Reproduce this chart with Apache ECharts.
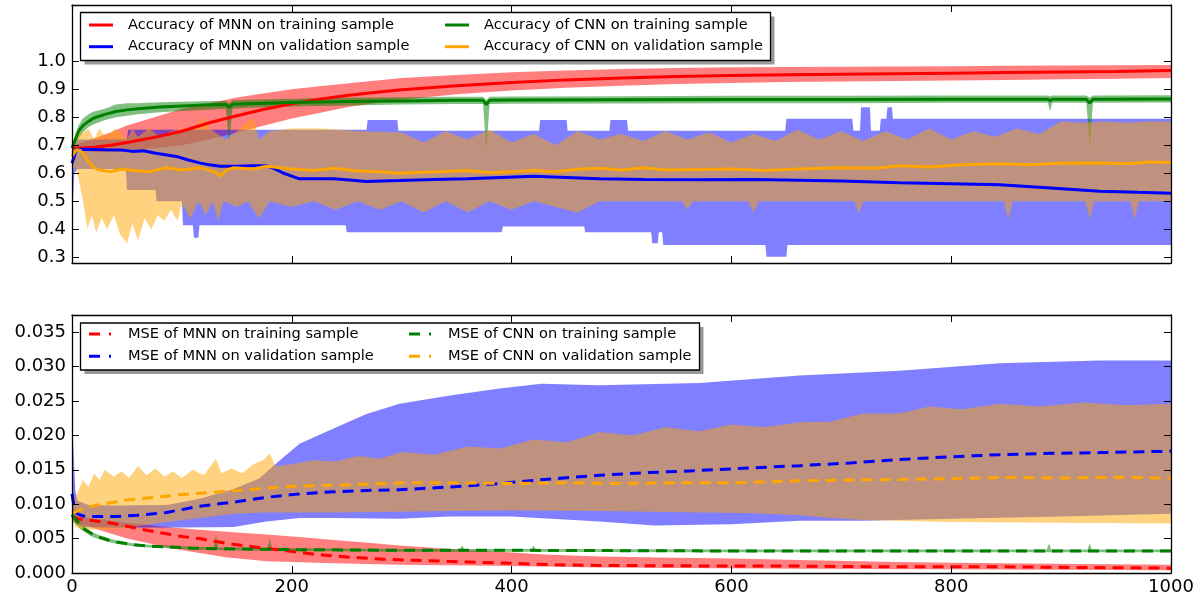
<!DOCTYPE html>
<html><head><meta charset="utf-8">
<script src="https://cdn.jsdelivr.net/npm/echarts@6/dist/echarts.min.js"></script>
<style>html,body{margin:0;padding:0;background:#fff}#c{width:1202px;height:600px}</style>
</head><body><div id="c"></div>
<script>
// ---------- Tick labels ----------
const xTicks = [0, 200, 400, 600, 800, 1000];
const accTicks = [0.3, 0.4, 0.5, 0.6, 0.7, 0.8, 0.9, 1.0];
const mseTicks = [0, 0.005, 0.01, 0.015, 0.02, 0.025, 0.03, 0.035];

// ---------- Legend names ----------
const accNames = ['Accuracy of MNN on training sample', 'Accuracy of MNN on validation sample',
                  'Accuracy of CNN on training sample', 'Accuracy of CNN on validation sample'];
const mseNames = ['MSE of MNN on training sample', 'MSE of MNN on validation sample',
                  'MSE of CNN on training sample', 'MSE of CNN on validation sample'];

// ---------- Accuracy: MNN training (red) ----------
const accMnnTrainMean = [[0,0.69],[10,0.69],[20,0.693],[35,0.70],[50,0.71],[75,0.728],[100,0.75],[125,0.78],[150,0.805],[175,0.828],[200,0.848],[225,0.864],[250,0.877],[275,0.888],[300,0.898],[350,0.912],[400,0.924],[450,0.933],[500,0.94],[550,0.945],[600,0.949],[650,0.951],[700,0.953],[750,0.955],[800,0.957],[850,0.959],[900,0.961],[950,0.963],[1000,0.966]];
const accMnnTrainUpper = [[0,0.70],[10,0.71],[20,0.725],[35,0.745],[50,0.77],[75,0.80],[100,0.83],[125,0.85],[150,0.87],[175,0.885],[200,0.90],[225,0.91],[250,0.92],[275,0.93],[300,0.94],[350,0.95],[400,0.96],[450,0.966],[500,0.972],[550,0.975],[600,0.978],[650,0.979],[700,0.98],[750,0.981],[800,0.982],[850,0.983],[900,0.984],[950,0.985],[1000,0.986]];
const accMnnTrainLower = [[0,0.685],[10,0.68],[20,0.675],[35,0.675],[50,0.68],[75,0.69],[100,0.70],[125,0.72],[150,0.745],[175,0.77],[200,0.795],[225,0.815],[250,0.835],[275,0.85],[300,0.862],[350,0.882],[400,0.895],[450,0.905],[500,0.912],[550,0.918],[600,0.922],[650,0.925],[700,0.927],[750,0.929],[800,0.931],[850,0.933],[900,0.935],[950,0.937],[1000,0.94]];

// ---------- Accuracy: MNN validation (blue) ----------
const accMnnValMean = [[0,0.636],[2,0.66],[4,0.685],[10,0.686],[20,0.685],[30,0.684],[45,0.683],[55,0.678],[65,0.68],[75,0.672],[85,0.666],[95,0.66],[105,0.648],[116,0.637],[125,0.63],[135,0.625],[150,0.625],[165,0.627],[177,0.627],[185,0.615],[192,0.601],[200,0.59],[207,0.58],[220,0.58],[238,0.58],[255,0.575],[268,0.571],[298,0.574],[330,0.578],[360,0.58],[390,0.585],[420,0.589],[450,0.585],[480,0.58],[520,0.578],[571,0.577],[620,0.578],[662,0.575],[700,0.572],[753,0.566],[800,0.563],[844,0.559],[880,0.55],[935,0.536],[970,0.532],[1000,0.529]];
const accMnnValUpper = [[0,0.70],[3,0.72],[50,0.72],[51,0.755],[268,0.755],[269,0.79],[296,0.79],[297,0.752],[425,0.752],[426,0.79],[450,0.79],[451,0.752],[489,0.752],[490,0.79],[505,0.79],[506,0.752],[649,0.752],[650,0.794],[710,0.794],[711,0.752],[717,0.752],[718,0.835],[726,0.835],[727,0.752],[735,0.752],[736,0.794],[741,0.794],[742,0.835],[746,0.835],[747,0.794],[1000,0.794]];
const accMnnValLower = [[0,0.42],[2,0.6],[5,0.615],[49,0.615],[50,0.54],[76,0.54],[77,0.5],[100,0.5],[101,0.415],[110,0.415],[111,0.37],[115,0.37],[116,0.415],[249,0.415],[250,0.39],[391,0.39],[392,0.41],[466,0.41],[467,0.39],[527,0.39],[528,0.35],[533,0.35],[534,0.39],[537,0.39],[538,0.344],[631,0.344],[632,0.302],[650,0.302],[651,0.344],[1000,0.344]];

// ---------- Accuracy: CNN training (green) ----------
const accCnnTrainMean = [[0,0.69],[3,0.72],[6,0.75],[10,0.77],[15,0.785],[20,0.797],[30,0.81],[40,0.82],[50,0.826],[60,0.83],[80,0.836],[100,0.84],[120,0.843],[140,0.845],[143,0.835],[146,0.846],[160,0.848],[200,0.852],[250,0.856],[300,0.858],[350,0.86],[374,0.86],[377,0.845],[380,0.86],[400,0.861],[500,0.862],[600,0.863],[700,0.863],[800,0.864],[888,0.864],[890,0.858],[892,0.864],[923,0.864],[926,0.85],[929,0.864],[1000,0.865]];
const accCnnTrainUpper = [[0,0.70],[3,0.74],[6,0.77],[10,0.795],[15,0.81],[20,0.82],[30,0.83],[40,0.845],[50,0.85],[60,0.85],[80,0.853],[100,0.855],[120,0.857],[140,0.858],[143,0.85],[146,0.86],[160,0.862],[200,0.866],[250,0.869],[300,0.871],[350,0.873],[374,0.873],[377,0.86],[380,0.873],[400,0.874],[500,0.875],[600,0.876],[700,0.876],[800,0.877],[888,0.877],[890,0.875],[892,0.877],[923,0.877],[926,0.87],[929,0.877],[1000,0.878]];
const accCnnTrainLower = [[0,0.68],[3,0.70],[6,0.725],[10,0.745],[15,0.765],[20,0.775],[30,0.79],[40,0.80],[50,0.805],[60,0.81],[80,0.818],[100,0.822],[120,0.826],[140,0.83],[143,0.71],[146,0.83],[160,0.834],[200,0.838],[250,0.842],[300,0.845],[350,0.847],[374,0.847],[377,0.684],[380,0.847],[400,0.848],[500,0.849],[600,0.85],[700,0.85],[800,0.851],[888,0.851],[890,0.82],[892,0.851],[923,0.851],[926,0.696],[929,0.851],[1000,0.852]];

// ---------- Accuracy: CNN validation (orange) ----------
const accCnnValMean = [[0,0.66],[4,0.684],[8,0.68],[12,0.66],[16,0.637],[20,0.62],[25,0.612],[35,0.605],[45,0.615],[56,0.61],[70,0.605],[86,0.62],[100,0.612],[116,0.62],[130,0.605],[135,0.59],[140,0.61],[147,0.62],[165,0.615],[177,0.625],[200,0.615],[220,0.61],[238,0.618],[260,0.608],[280,0.605],[298,0.6],[320,0.604],[340,0.606],[360,0.61],[380,0.602],[400,0.605],[420,0.61],[440,0.605],[460,0.614],[480,0.618],[500,0.612],[520,0.62],[540,0.612],[571,0.613],[600,0.615],[630,0.61],[662,0.615],[700,0.62],[730,0.618],[753,0.627],[780,0.622],[810,0.63],[844,0.634],[870,0.63],[900,0.636],[935,0.637],[960,0.634],[980,0.64],[1000,0.638]];
const accCnnValUpper = [[0,0.70],[3,0.72],[5,0.76],[10,0.74],[15,0.76],[20,0.72],[25,0.76],[30,0.73],[40,0.76],[50,0.72],[55,0.76],[60,0.73],[70,0.76],[80,0.73],[90,0.75],[100,0.76],[110,0.76],[120,0.8],[125,0.76],[140,0.72],[150,0.75],[165,0.8],[170,0.72],[180,0.75],[200,0.76],[230,0.76],[260,0.75],[300,0.745],[320,0.71],[340,0.75],[360,0.72],[380,0.755],[400,0.71],[420,0.74],[440,0.70],[460,0.75],[480,0.72],[500,0.74],[520,0.715],[540,0.75],[560,0.72],[580,0.745],[600,0.71],[620,0.74],[640,0.715],[660,0.755],[680,0.72],[700,0.75],[720,0.715],[740,0.75],[760,0.72],[780,0.76],[800,0.72],[820,0.75],[840,0.73],[860,0.76],[880,0.74],[900,0.785],[920,0.78],[940,0.785],[960,0.78],[980,0.785],[1000,0.785]];
const accCnnValLower = [[0,0.62],[3,0.62],[6,0.58],[10,0.5],[14,0.40],[18,0.45],[22,0.39],[27,0.44],[32,0.40],[38,0.45],[44,0.38],[50,0.35],[55,0.42],[60,0.36],[66,0.44],[72,0.40],[78,0.45],[84,0.43],[90,0.47],[96,0.43],[100,0.49],[108,0.44],[115,0.5],[122,0.45],[128,0.5],[133,0.43],[138,0.5],[150,0.48],[160,0.5],[170,0.44],[180,0.5],[200,0.48],[220,0.5],[240,0.47],[260,0.5],[280,0.47],[300,0.5],[320,0.46],[340,0.5],[360,0.46],[380,0.5],[400,0.47],[420,0.5],[440,0.48],[460,0.46],[480,0.5],[555,0.5],[560,0.47],[565,0.5],[615,0.5],[620,0.46],[625,0.5],[712,0.5],[716,0.457],[720,0.5],[848,0.5],[852,0.435],[856,0.5],[922,0.5],[926,0.435],[930,0.5],[963,0.5],[967,0.435],[971,0.5],[1000,0.5]];

// ---------- MSE: MNN training (red) ----------
const mseMnnTrainMean = [[0,0.0082],[5,0.0079],[13,0.0077],[25,0.0075],[38,0.0072],[50,0.0068],[62,0.0064],[75,0.006],[86,0.0057],[100,0.0053],[116,0.005],[130,0.0046],[141,0.0043],[165,0.0038],[192,0.0033],[222,0.0027],[253,0.0023],[283,0.002],[320,0.0018],[360,0.0016],[400,0.0014],[440,0.0012],[480,0.0011],[550,0.00105],[600,0.001],[662,0.001],[750,0.0009],[844,0.0009],[920,0.0008],[1000,0.0007]];
const mseMnnTrainUpper = [[0,0.0135],[2,0.0095],[5,0.0085],[15,0.008],[30,0.0077],[56,0.0072],[86,0.0067],[116,0.0063],[150,0.0059],[177,0.0056],[210,0.0052],[238,0.0048],[270,0.0044],[298,0.004],[344,0.0035],[389,0.0031],[430,0.0027],[480,0.0024],[550,0.0022],[600,0.0021],[662,0.0019],[750,0.0016],[844,0.0014],[920,0.0013],[1000,0.0012]];
const mseMnnTrainLower = [[0,0.0075],[5,0.0072],[15,0.0068],[30,0.006],[50,0.005],[71,0.0043],[90,0.0036],[116,0.0029],[140,0.0023],[177,0.0017],[238,0.0014],[298,0.0012],[400,0.001],[480,0.0008],[662,0.0006],[844,0.0005],[1000,0.0004]];

// ---------- MSE: MNN validation (blue) ----------
const mseMnnValMean = [[0,0.0115],[2,0.0095],[5,0.0086],[10,0.0083],[20,0.0082],[40,0.0082],[60,0.0084],[86,0.0088],[116,0.0097],[147,0.0103],[177,0.011],[207,0.0115],[238,0.0118],[268,0.012],[298,0.0121],[344,0.0125],[389,0.013],[430,0.0136],[480,0.0142],[525,0.0146],[571,0.0149],[620,0.0153],[662,0.0156],[708,0.016],[753,0.0165],[800,0.0169],[844,0.0172],[890,0.0174],[935,0.0175],[1000,0.0177]];
const mseMnnValUpper = [[0,0.02],[1,0.019],[3,0.012],[5,0.0105],[15,0.0099],[40,0.0098],[86,0.0099],[116,0.0108],[147,0.0122],[170,0.0137],[185,0.0158],[207,0.0188],[238,0.021],[268,0.0231],[298,0.0246],[344,0.0258],[389,0.0268],[427,0.0275],[480,0.0273],[571,0.0276],[662,0.0287],[753,0.0294],[844,0.0305],[935,0.0309],[1000,0.0309]];
const mseMnnValLower = [[0,0.0085],[3,0.0072],[10,0.0067],[30,0.0066],[60,0.0066],[100,0.0066],[147,0.0067],[177,0.0075],[207,0.008],[238,0.008],[298,0.0079],[344,0.0082],[400,0.0082],[480,0.0075],[530,0.0069],[600,0.0071],[662,0.0076],[720,0.0076],[800,0.0079],[900,0.0082],[1000,0.0086]];

// ---------- MSE: CNN training (green) ----------
const mseCnnTrainMean = [[0,0.0085],[2,0.008],[4,0.0077],[8,0.0068],[13,0.0062],[19,0.0056],[25,0.0052],[33,0.0048],[41,0.0045],[56,0.0041],[70,0.0039],[86,0.0038],[110,0.0036],[147,0.0035],[200,0.0034],[300,0.0033],[400,0.0033],[600,0.0032],[800,0.0032],[1000,0.0032]];
const mseCnnTrainUpper = [[0,0.0095],[2,0.0088],[4,0.0082],[8,0.0072],[13,0.0065],[19,0.0059],[25,0.0055],[33,0.0051],[41,0.0047],[56,0.0043],[70,0.0041],[86,0.004],[110,0.0038],[129,0.0037],[131,0.0055],[133,0.0037],[147,0.0037],[178,0.0036],[180,0.005],[182,0.0036],[200,0.0036],[300,0.0035],[353,0.0035],[355,0.004],[357,0.0035],[418,0.0035],[420,0.004],[422,0.0035],[600,0.0034],[800,0.0034],[887,0.0034],[889,0.0043],[891,0.0034],[924,0.0034],[926,0.0043],[928,0.0034],[1000,0.0034]];
const mseCnnTrainLower = [[0,0.0076],[2,0.0073],[4,0.007],[8,0.0063],[13,0.0058],[19,0.0052],[25,0.0049],[33,0.0045],[41,0.0042],[56,0.0039],[70,0.0037],[86,0.0036],[110,0.0034],[147,0.0033],[200,0.0032],[300,0.0031],[400,0.0031],[600,0.003],[800,0.003],[1000,0.003]];

// ---------- MSE: CNN validation (orange) ----------
const mseCnnValMean = [[0,0.0087],[5,0.009],[10,0.0093],[20,0.0098],[35,0.0102],[50,0.0106],[75,0.011],[100,0.0114],[125,0.0117],[150,0.012],[175,0.0123],[200,0.0126],[250,0.0128],[300,0.0131],[350,0.0131],[400,0.013],[450,0.0131],[500,0.013],[550,0.0131],[600,0.0131],[662,0.0134],[700,0.0135],[750,0.0136],[800,0.0137],[844,0.0139],[900,0.0138],[950,0.0139],[1000,0.0138]];
const mseCnnValUpper = [[0,0.0095],[3,0.011],[6,0.012],[10,0.0135],[15,0.0125],[20,0.0145],[25,0.0135],[30,0.015],[38,0.014],[45,0.0148],[52,0.0138],[60,0.0155],[68,0.0142],[76,0.0152],[84,0.014],[92,0.0148],[100,0.0138],[110,0.015],[120,0.0142],[131,0.0166],[136,0.0145],[145,0.0152],[155,0.0145],[165,0.0158],[175,0.0165],[180,0.0174],[185,0.0155],[200,0.0158],[220,0.0164],[240,0.0162],[260,0.017],[280,0.0166],[300,0.0176],[330,0.0172],[360,0.0184],[390,0.0181],[420,0.0194],[450,0.019],[480,0.0205],[510,0.02],[540,0.0212],[571,0.0206],[600,0.0216],[630,0.0212],[662,0.0219],[690,0.022],[720,0.0232],[753,0.0232],[780,0.0242],[810,0.0238],[844,0.0246],[880,0.0242],[920,0.0248],[960,0.0244],[1000,0.0246]];
const mseCnnValLower = [[0,0.008],[3,0.0068],[8,0.0064],[20,0.0063],[40,0.0064],[60,0.0068],[86,0.0074],[116,0.008],[147,0.0086],[177,0.0088],[238,0.0088],[298,0.0089],[344,0.009],[400,0.0091],[480,0.009],[571,0.0088],[620,0.0087],[662,0.0084],[690,0.008],[720,0.0077],[800,0.0074],[900,0.0073],[1000,0.0072]];

// ---------- Styles ----------
const RED = '#ff0000', BLUE = '#0000ff', GREEN = '#008000', ORANGE = '#ffa500';
const FONT = 'DejaVu Sans';

function band(upper, lower, color, gi) {
  return {
    type: 'custom', xAxisIndex: gi * 2, yAxisIndex: gi * 2, silent: true, z: 1,
    clip: true, data: [upper[0]],
    renderItem: function (params, api) {
      const pts = [];
      for (let i = 0; i < upper.length; i++) pts.push(api.coord(upper[i]));
      for (let i = lower.length - 1; i >= 0; i--) pts.push(api.coord(lower[i]));
      return { type: 'polygon', shape: { points: pts }, style: { fill: color, stroke: null } };
    }
  };
}
function line(name, pts, color, gi, dashed) {
  return {
    name: name, type: 'line', xAxisIndex: gi * 2, yAxisIndex: gi * 2, data: pts,
    showSymbol: false, symbol: 'none', color: color, silent: true, z: 3,
    lineStyle: { color: color, width: 3, type: dashed ? [11, 7] : 'solid', cap: 'butt' }
  };
}

function xAx(gi, pos, labels) {
  return {
    type: 'value', gridIndex: gi, position: pos, min: 0, max: 1000, interval: 200, z: 10,
    axisLine: { show: true, onZero: false, lineStyle: { color: '#000', width: 1.3 } },
    axisTick: { show: true, inside: true, length: 7, customValues: xTicks, lineStyle: { color: '#000', width: 1 } },
    axisLabel: { show: labels, customValues: xTicks, fontSize: 18, fontFamily: FONT, color: '#000', margin: 5,
      formatter: function (v) { return String(v); } },
    splitLine: { show: false }
  };
}
function yAx(gi, pos, min, max, ticks, digits, labels) {
  return {
    type: 'value', gridIndex: gi, position: pos, min: min, max: max, z: 10,
    axisLine: { show: true, onZero: false, lineStyle: { color: '#000', width: 1.3 } },
    axisTick: { show: true, inside: true, length: 7, customValues: ticks, lineStyle: { color: '#000', width: 1 } },
    axisLabel: { show: labels, customValues: ticks, fontSize: 18, fontFamily: FONT, color: '#000', margin: 6,
      formatter: function (v) { return v.toFixed(digits); } },
    splitLine: { show: false }
  };
}
function legend(left, top, names, icon, w, gap, pad) {
  return {
    left: left, top: top, orient: 'vertical', padding: 0, itemGap: gap, z: 30,
    itemWidth: w, itemHeight: 3, selectedMode: false,
    textStyle: { fontSize: 14.6, fontFamily: FONT, color: '#000', lineHeight: 18, padding: [0, 0, 0, pad] },
    data: names.map(function (n) { return { name: n, icon: icon }; })
  };
}
const dashIcon = 'path://M0 0H11V3H0Z M20 0H22V3H20Z';

const option = {
  animation: false,
  backgroundColor: '#fff',
  grid: [
    { left: 72, top: 5, width: 1099, height: 258 },
    { left: 72, top: 315, width: 1099, height: 258 }
  ],
  xAxis: [xAx(0, 'bottom', false), xAx(0, 'top', false), xAx(1, 'bottom', true), xAx(1, 'top', false)],
  yAxis: [
    yAx(0, 'left', 0.28, 1.2, accTicks, 1, true), yAx(0, 'right', 0.28, 1.2, accTicks, 1, false),
    yAx(1, 'left', 0, 0.0375, mseTicks, 3, true), yAx(1, 'right', 0, 0.0375, mseTicks, 3, false)
  ],
  legend: [
    legend(89, 16, [accNames[0], accNames[1]], 'rect', 24, 3.7, 10),
    legend(445, 16, [accNames[2], accNames[3]], 'rect', 24, 3.7, 10),
    legend(89, 325, [mseNames[0], mseNames[1]], dashIcon, 22, 4.3, 12),
    legend(409, 325, [mseNames[2], mseNames[3]], dashIcon, 22, 4.3, 12)
  ],
  graphic: [
    { type: 'rect', z: 20, silent: true, shape: { x: 84.5, y: 16.5, width: 690, height: 48 }, style: { fill: '#999' } },
    { type: 'rect', z: 21, silent: true, shape: { x: 80.5, y: 12.5, width: 690, height: 48 }, style: { fill: '#fff', stroke: '#000', lineWidth: 1.3 } },
    { type: 'rect', z: 20, silent: true, shape: { x: 84.5, y: 327, width: 619, height: 47 }, style: { fill: '#999' } },
    { type: 'rect', z: 21, silent: true, shape: { x: 80.5, y: 323, width: 619, height: 47 }, style: { fill: '#fff', stroke: '#000', lineWidth: 1.3 } }
  ],
  series: [
    band(accMnnTrainUpper, accMnnTrainLower, 'rgba(255,0,0,0.5)', 0),
    band(accMnnValUpper, accMnnValLower, 'rgba(0,0,255,0.5)', 0),
    band(accCnnTrainUpper, accCnnTrainLower, 'rgba(0,128,0,0.5)', 0),
    band(accCnnValUpper, accCnnValLower, 'rgba(255,165,0,0.5)', 0),
    line(accNames[0], accMnnTrainMean, RED, 0, false),
    line(accNames[1], accMnnValMean, BLUE, 0, false),
    line(accNames[2], accCnnTrainMean, GREEN, 0, false),
    line(accNames[3], accCnnValMean, ORANGE, 0, false),
    band(mseMnnTrainUpper, mseMnnTrainLower, 'rgba(255,0,0,0.5)', 1),
    band(mseMnnValUpper, mseMnnValLower, 'rgba(0,0,255,0.5)', 1),
    band(mseCnnTrainUpper, mseCnnTrainLower, 'rgba(0,128,0,0.5)', 1),
    band(mseCnnValUpper, mseCnnValLower, 'rgba(255,165,0,0.5)', 1),
    line(mseNames[0], mseMnnTrainMean, RED, 1, true),
    line(mseNames[1], mseMnnValMean, BLUE, 1, true),
    line(mseNames[2], mseCnnTrainMean, GREEN, 1, true),
    line(mseNames[3], mseCnnValMean, ORANGE, 1, true)
  ]
};
const chart = echarts.init(document.getElementById('c'));
chart.setOption(option);
</script></body></html>
